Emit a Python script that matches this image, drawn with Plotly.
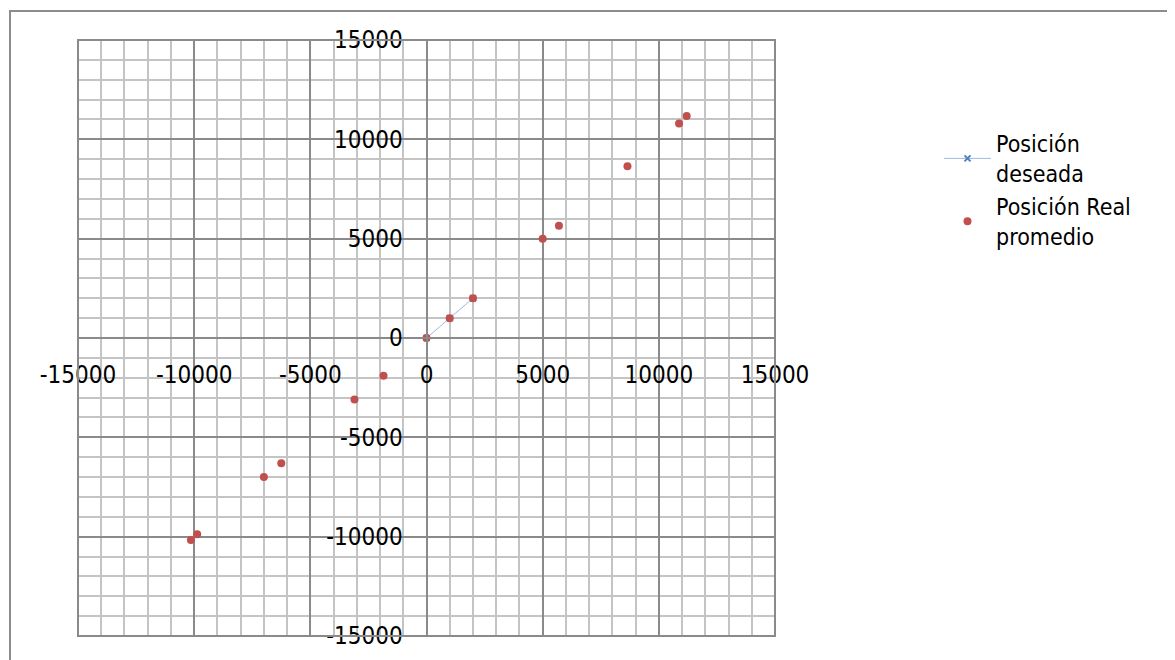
import plotly.graph_objects as go

# desired position (only the first points are drawn as a line)
x_deseada = [0, 1000, 2000]
y_deseada = [0, 1000, 2000]

# averaged real position
x_real = [0, 1000, 2000, -1850, -3100, -6250, -7000, -9870, -10140,
          5000, 5700, 8650, 10870, 11200]
y_real = [0, 1000, 2000, -1900, -3100, -6300, -7000, -9880, -10170,
          5000, 5650, 8640, 10800, 11170]

tick_vals = [-15000, -10000, -5000, 0, 5000, 10000, 15000]
tick_text = ["-15000", "-10000", "-5000", "0", "5000", "10000", "15000"]

# the page body adds an 8px margin, so figure coords = screen coords - 8
W, H = 1175, 660
L, R, T, B = 70, 408, 32, 32
pw, ph = W - L - R, H - T - B

MINOR = "#c4c4c4"
MAJOR = "#8a8a8a"
FONT = "DejaVu Sans Condensed, sans-serif"


def px_x(p):
    return (p - L) / pw


def px_y(p):
    return (H - B - p) / ph


fig = go.Figure()
fig.add_trace(
    go.Scatter(
        x=x_deseada,
        y=y_deseada,
        mode="lines+markers",
        name="Posición<br>deseada",
        line=dict(color="#9fbbe0", width=1),
        marker=dict(symbol="x-thin", size=6, color="#4f81bd",
                    line=dict(color="#4f81bd", width=2)),
    )
)
fig.add_trace(
    go.Scatter(
        x=x_real,
        y=y_real,
        mode="markers",
        name="Posición Real<br>promedio",
        marker=dict(symbol="circle", size=8, color="#c0504d"),
    )
)

axis_common = dict(
    range=[-15000, 15000],
    tickvals=tick_vals,
    ticktext=tick_text,
    showgrid=True,
    gridcolor=MAJOR,
    gridwidth=2,
    zeroline=False,
    showline=True,
    linecolor=MAJOR,
    linewidth=2,
    ticks="outside",
    tickcolor="rgba(0,0,0,0)",
    tickfont=dict(family=FONT, size=24, color="#000000"),
    minor=dict(dtick=1000, showgrid=True, gridcolor=MINOR, gridwidth=2),
    anchor="free",
    position=0.5,
)

fig.update_layout(
    width=W,
    height=H,
    margin=dict(l=L, r=R, t=T, b=B),
    paper_bgcolor="white",
    plot_bgcolor="white",
    font=dict(family=FONT, size=24, color="#000000"),
    xaxis=dict(axis_common, ticklen=15),
    yaxis=dict(axis_common, ticklen=18),
    showlegend=True,
    legend=dict(
        x=px_x(931),
        y=px_y(114),
        xanchor="left",
        yanchor="top",
        bgcolor="rgba(0,0,0,0)",
        font=dict(family=FONT, size=23),
        itemwidth=47,
        tracegroupgap=0,
    ),
)

# plot area border
fig.add_shape(type="rect", xref="paper", yref="paper", x0=0, x1=1, y0=0, y1=1,
              line=dict(color=MAJOR, width=2), layer="above")
# chart frame
fig.add_shape(type="rect", xref="paper", yref="paper",
              x0=px_x(2), x1=px_x(1200), y0=px_y(700), y1=px_y(3),
              line=dict(color="#8c8c8c", width=2))

fig.write_html("out.html")
